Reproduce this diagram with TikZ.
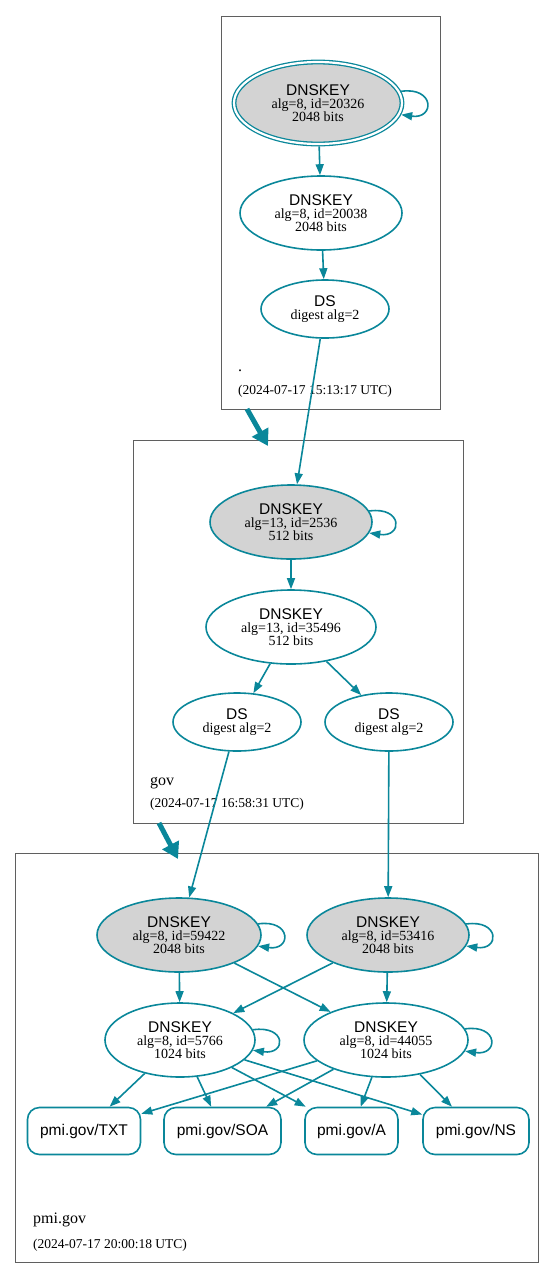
\documentclass[tikz,border=0pt]{standalone}
\usepackage{fontspec}
\setmainfont{Liberation Serif}
\setsansfont{Liberation Sans}
\usetikzlibrary{shapes.geometric,arrows.meta}
\definecolor{dnsteal}{HTML}{0A879A}
\definecolor{kskgray}{HTML}{D3D3D3}
\definecolor{zoneline}{HTML}{5F5F5F}
\newcommand{\keyfont}{\sffamily\fontsize{15.5}{13}\selectfont}
\newcommand{\infofont}{\rmfamily\fontsize{14}{13}\selectfont}
\newcommand{\stampfont}{\rmfamily\fontsize{13.5}{13}\selectfont}

\begin{document}
\begin{tikzpicture}[
        x=1pt, y=1pt,
        zone/.style={draw=zoneline, line width=0.8pt, rectangle, inner sep=0pt},
        key/.style={draw=dnsteal, line width=1.6pt, ellipse, inner sep=0pt, align=center, font=\infofont, minimum height=74pt},
        ksk/.style={key, fill=kskgray},
        sep/.style={ksk, double=white, double distance=2.2pt, line width=1.3pt, outer sep=2.4pt},
        ds/.style={key, minimum width=128pt, minimum height=58pt},
        rrset/.style={draw=dnsteal, line width=1.6pt, rectangle, rounded corners=12pt, minimum height=47pt, font=\keyfont, inner sep=0pt},
        zonename/.style={anchor=base west, inner sep=0pt, font=\rmfamily\fontsize{16}{16}\selectfont},
        stamp/.style={anchor=base west, inner sep=0pt, font=\stampfont},
        edge/.style={draw=dnsteal, line width=1.6pt, -{Triangle[length=11pt,width=8pt]}},
        loopedge/.style={edge, min distance=34pt},
        deleg/.style={draw=dnsteal, line width=5pt, -{Triangle[length=16pt,width=18pt]}},
    ]
    \useasboundingbox (0,0) rectangle (555,-1278);

    \node[zone, minimum width=219pt, minimum height=393pt] (zroot) at (330.5,-212.5) {};
    \node[zone, minimum width=330pt, minimum height=383pt] (zgov) at (298,-631.5) {};
    \node[zone, minimum width=523pt, minimum height=409pt] (zpmi) at (276.5,-1057.5) {};

    \node[zonename] (nroot) at (238,-371) {.};
    \node[stamp] (troot) at (238,-394) {(2024-07-17 15:13:17 UTC)};
    \node[zonename] (ngov) at (150,-785) {gov};
    \node[stamp] (tgov) at (150,-807) {(2024-07-17 16:58:31 UTC)};
    \node[zonename] (npmi) at (33,-1223) {pmi.gov};
    \node[stamp] (tpmi) at (33,-1248) {(2024-07-17 20:00:18 UTC)};

    \node[sep, minimum width=168pt, minimum height=82pt] (k20326) at (318,-103) {{\keyfont DNSKEY}\\alg=8, id=20326\\2048 bits};
    \node[key, minimum width=162pt] (k20038) at (321,-213) {{\keyfont DNSKEY}\\alg=8, id=20038\\2048 bits};
    \node[ds] (dsroot) at (325,-309) {{\keyfont DS}\\digest alg=2};

    \node[ksk, minimum width=162pt] (k2536) at (291,-522) {{\keyfont DNSKEY}\\alg=13, id=2536\\512 bits};
    \node[key, minimum width=170pt] (k35496) at (291,-627) {{\keyfont DNSKEY}\\alg=13, id=35496\\512 bits};
    \node[ds] (dsgovl) at (237,-722) {{\keyfont DS}\\digest alg=2};
    \node[ds] (dsgovr) at (389,-722) {{\keyfont DS}\\digest alg=2};

    \node[ksk, minimum width=164pt] (k59422) at (179,-935) {{\keyfont DNSKEY}\\alg=8, id=59422\\2048 bits};
    \node[ksk, minimum width=162pt] (k53416) at (388,-935) {{\keyfont DNSKEY}\\alg=8, id=53416\\2048 bits};
    \node[key, minimum width=150pt] (k5766) at (180,-1040) {{\keyfont DNSKEY}\\alg=8, id=5766\\1024 bits};
    \node[key, minimum width=164pt] (k44055) at (386,-1040) {{\keyfont DNSKEY}\\alg=8, id=44055\\1024 bits};

    \node[rrset, minimum width=113pt] (txt) at (84,-1131) {pmi.gov/TXT};
    \node[rrset, minimum width=117pt] (soa) at (222.5,-1131) {pmi.gov/SOA};
    \node[rrset, minimum width=93pt] (a) at (351.5,-1131) {pmi.gov/A};
    \node[rrset, minimum width=106pt] (ns) at (476,-1131) {pmi.gov/NS};

    \coordinate (droot) at (247,-409);
    \coordinate (dgov) at (268,-446);
    \coordinate (dgovout) at (159,-823);
    \coordinate (dpmi) at (178,-859);

    \draw[loopedge] (k20326) to[out=8,in=-8] (k20326);
    \draw[edge] (k20326) -- (k20038);
    \draw[edge] (k20038) -- (dsroot);
    \draw[edge] (dsroot) -- (k2536);
    \draw[deleg] (droot) -- (dgov);

    \draw[loopedge] (k2536) to[out=8,in=-8] (k2536);
    \draw[edge] (k2536) -- (k35496);
    \draw[edge] (k35496) -- (dsgovl);
    \draw[edge] (k35496) -- (dsgovr);
    \draw[edge] (dsgovl) -- (k59422);
    \draw[edge] (dsgovr) -- (k53416);
    \draw[deleg] (dgovout) -- (dpmi);

    \draw[loopedge] (k59422) to[out=8,in=-8] (k59422);
    \draw[loopedge] (k53416) to[out=8,in=-8] (k53416);
    \draw[edge] (k59422) -- (k5766);
    \draw[edge] (k59422) -- (k44055);
    \draw[edge] (k53416) -- (k5766);
    \draw[edge] (k53416) -- (k44055);
    \draw[loopedge] (k5766) to[out=8,in=-8] (k5766);
    \draw[loopedge] (k44055) to[out=8,in=-8] (k44055);

    \draw[edge] (k5766) -- (txt);
    \draw[edge] (k5766) -- (soa);
    \draw[edge] (k5766) -- (a);
    \draw[edge] (k5766) -- (ns);
    \draw[edge] (k44055) -- (txt);
    \draw[edge] (k44055) -- (soa);
    \draw[edge] (k44055) -- (a);
    \draw[edge] (k44055) -- (ns);
\end{tikzpicture}
\end{document}
